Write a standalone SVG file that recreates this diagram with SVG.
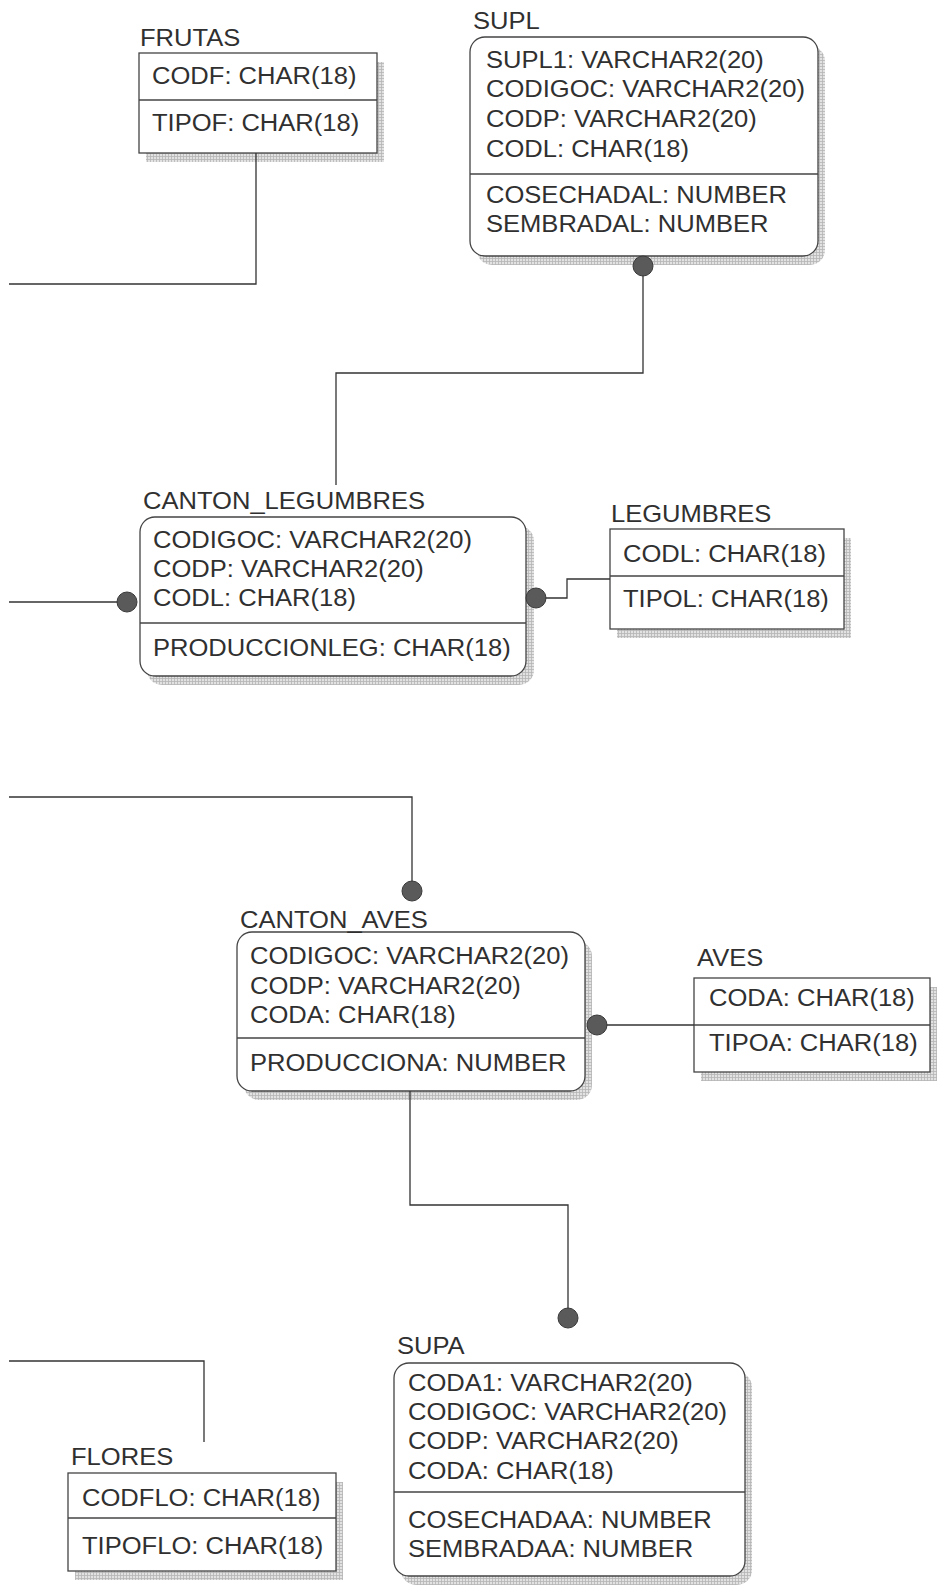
<svg xmlns="http://www.w3.org/2000/svg" width="942" height="1588" viewBox="0 0 942 1588">
  <defs>
    <!-- fine grid used for the drop shadows of the tables -->
    <pattern id="hatch" width="3" height="3" patternUnits="userSpaceOnUse">
      <rect width="3" height="3" fill="#e2e2e2"/>
      <path d="M0,0.5 H3 M0.5,0 V3" stroke="#b5b5b5" stroke-width="0.8"/>
    </pattern>
    <style>
      .t { font-family: "Liberation Sans", Arial, sans-serif; font-size: 24px; fill: #303030;
           transform-box: fill-box; transform-origin: 0 0; transform: scaleX(1.065); }
      .box { fill: #fff; stroke: #444; stroke-width: 1.3; }
      .shadow { fill: url(#hatch); }
      .div { stroke: #444; stroke-width: 1.3; }
      .wire { fill: none; stroke: #333; stroke-width: 1.3; }
      .dot { fill: #5a5a5a; stroke: #3a3a3a; stroke-width: 1; }
    </style>
  </defs>
  <rect width="942" height="1588" fill="#fff"/>

  <g id="frutas">
    <rect class="shadow" x="146" y="62" width="238" height="100"/>
    <rect class="box" x="139" y="53" width="238" height="100"/>
    <line class="div" x1="139" y1="100" x2="377" y2="100"/>
    <text class="t" x="140" y="46">FRUTAS</text>
    <text class="t" x="152" y="84">CODF: CHAR(18)</text>
    <text class="t" x="152" y="131">TIPOF: CHAR(18)</text>
  </g>

  <g id="supl">
    <rect class="shadow" x="477" y="46" width="348" height="219" rx="15"/>
    <rect class="box" x="470" y="37" width="348" height="219" rx="15"/>
    <line class="div" x1="470" y1="174" x2="818" y2="174"/>
    <text class="t" x="473" y="29">SUPL</text>
    <text class="t" x="486" y="68">SUPL1: VARCHAR2(20)</text>
    <text class="t" x="486" y="97">CODIGOC: VARCHAR2(20)</text>
    <text class="t" x="486" y="127">CODP: VARCHAR2(20)</text>
    <text class="t" x="486" y="157">CODL: CHAR(18)</text>
    <text class="t" x="486" y="203">COSECHADAL: NUMBER</text>
    <text class="t" x="486" y="232">SEMBRADAL: NUMBER</text>
  </g>

  <g id="canton_legumbres">
    <rect class="shadow" x="147" y="526" width="387" height="159" rx="15"/>
    <rect class="box" x="140" y="517" width="386" height="159" rx="15"/>
    <line class="div" x1="140" y1="623" x2="526" y2="623"/>
    <text class="t" x="143" y="509">CANTON_LEGUMBRES</text>
    <text class="t" x="153" y="548">CODIGOC: VARCHAR2(20)</text>
    <text class="t" x="153" y="577">CODP: VARCHAR2(20)</text>
    <text class="t" x="153" y="606">CODL: CHAR(18)</text>
    <text class="t" x="153" y="656">PRODUCCIONLEG: CHAR(18)</text>
  </g>

  <g id="legumbres">
    <rect class="shadow" x="617" y="538" width="234" height="100"/>
    <rect class="box" x="610" y="529" width="234" height="100"/>
    <line class="div" x1="610" y1="576" x2="844" y2="576"/>
    <text class="t" x="611" y="522">LEGUMBRES</text>
    <text class="t" x="623" y="562">CODL: CHAR(18)</text>
    <text class="t" x="623" y="607">TIPOL: CHAR(18)</text>
  </g>

  <g id="canton_aves">
    <rect class="shadow" x="244" y="941" width="348" height="159" rx="15"/>
    <rect class="box" x="237" y="932" width="348" height="159" rx="15"/>
    <line class="div" x1="237" y1="1038" x2="585" y2="1038"/>
    <text class="t" x="240" y="928">CANTON_AVES</text>
    <text class="t" x="250" y="964">CODIGOC: VARCHAR2(20)</text>
    <text class="t" x="250" y="994">CODP: VARCHAR2(20)</text>
    <text class="t" x="250" y="1023">CODA: CHAR(18)</text>
    <text class="t" x="250" y="1071">PRODUCCIONA: NUMBER</text>
  </g>

  <g id="aves">
    <rect class="shadow" x="701" y="987" width="236" height="94"/>
    <rect class="box" x="694" y="978" width="236" height="94"/>
    <line class="div" x1="694" y1="1025" x2="930" y2="1025"/>
    <text class="t" x="697" y="966">AVES</text>
    <text class="t" x="709" y="1006">CODA: CHAR(18)</text>
    <text class="t" x="709" y="1051">TIPOA: CHAR(18)</text>
  </g>

  <g id="supa">
    <rect class="shadow" x="401" y="1372" width="351" height="213" rx="15"/>
    <rect class="box" x="394" y="1363" width="351" height="213" rx="15"/>
    <line class="div" x1="394" y1="1492" x2="745" y2="1492"/>
    <text class="t" x="397" y="1354">SUPA</text>
    <text class="t" x="408" y="1391">CODA1: VARCHAR2(20)</text>
    <text class="t" x="408" y="1420">CODIGOC: VARCHAR2(20)</text>
    <text class="t" x="408" y="1449">CODP: VARCHAR2(20)</text>
    <text class="t" x="408" y="1479">CODA: CHAR(18)</text>
    <text class="t" x="408" y="1528">COSECHADAA: NUMBER</text>
    <text class="t" x="408" y="1557">SEMBRADAA: NUMBER</text>
  </g>

  <g id="flores">
    <rect class="shadow" x="75" y="1482" width="268" height="98"/>
    <rect class="box" x="68" y="1473" width="268" height="98"/>
    <line class="div" x1="68" y1="1518" x2="336" y2="1518"/>
    <text class="t" x="71" y="1465">FLORES</text>
    <text class="t" x="82" y="1506">CODFLO: CHAR(18)</text>
    <text class="t" x="82" y="1554">TIPOFLO: CHAR(18)</text>
  </g>

  <!-- relationship lines, drawn last so the end dots sit over the shadows -->
  <g id="connectors">
    <path class="wire" d="M256,153 V284 H9"/>
    <path class="wire" d="M643,266 V373 H336 V485"/>
    <path class="wire" d="M9,602 H127"/>
    <path class="wire" d="M536,598 H567 V579 H610"/>
    <path class="wire" d="M9,797 H412 V891"/>
    <path class="wire" d="M597,1025 H694"/>
    <path class="wire" d="M410,1091 V1205 H568 V1318"/>
    <path class="wire" d="M9,1361 H204 V1442"/>
    <circle class="dot" cx="643" cy="266" r="10"/>
    <circle class="dot" cx="127" cy="602" r="10"/>
    <circle class="dot" cx="536" cy="598" r="10"/>
    <circle class="dot" cx="412" cy="891" r="10"/>
    <circle class="dot" cx="597" cy="1025" r="10"/>
    <circle class="dot" cx="568" cy="1318" r="10"/>
  </g>
</svg>
